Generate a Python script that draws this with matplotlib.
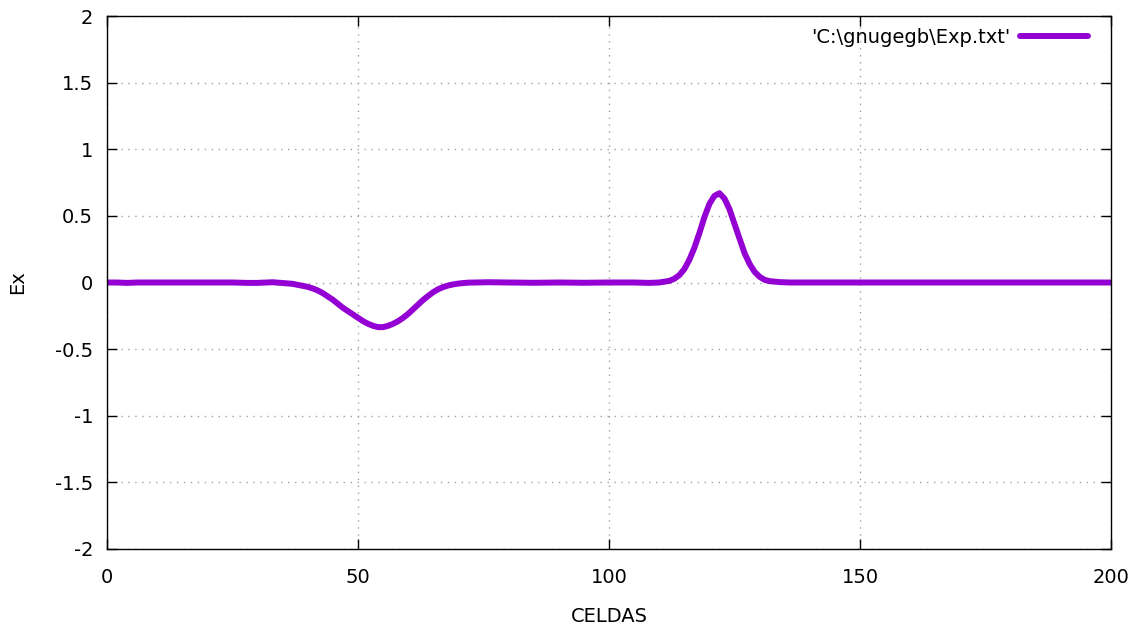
import matplotlib
matplotlib.use("Agg")
import matplotlib.pyplot as plt

plt.rcParams['axes.unicode_minus'] = False
plt.rcParams['font.family'] = ['DejaVu Sans']

celdas = [0, 2, 4, 6, 10, 15, 20, 25, 28, 30, 33, 35, 37,
          38, 39, 40, 41, 42, 43, 44, 45, 46, 47, 48, 49, 50, 51, 52, 53, 54, 55,
          56, 57, 58, 59, 60, 61, 62, 63, 64, 65, 66, 67, 68, 69, 70, 71, 72,
          76, 80, 85, 90, 95, 100, 105, 108, 110, 112,
          113, 114, 115, 116, 117, 118, 119, 120, 121, 122, 123, 124, 125, 126,
          127, 128, 129, 130, 131, 132, 134, 136, 140, 150, 160, 170, 180, 190, 200]
ex = [0.0, 0.0, -0.003, 0.0, 0.0, 0.0, 0.0, 0.0, -0.003, -0.003, 0.002, -0.004, -0.01,
      -0.018, -0.025, -0.033, -0.045, -0.06, -0.08, -0.105, -0.13, -0.16, -0.19,
      -0.215, -0.24, -0.265, -0.29, -0.31, -0.325, -0.335, -0.335,
      -0.325, -0.31, -0.29, -0.265, -0.235, -0.2, -0.165, -0.13, -0.1, -0.072,
      -0.05, -0.034, -0.022, -0.014, -0.008, -0.004, -0.001,
      0.002, 0.0, -0.002, 0.0, -0.002, 0.0, 0.0, -0.003, 0.0, 0.012,
      0.028, 0.055, 0.10, 0.17, 0.26, 0.37, 0.49, 0.59, 0.65, 0.67, 0.63, 0.55,
      0.44, 0.33, 0.22, 0.14, 0.08, 0.043, 0.02, 0.01, 0.003, 0.0, 0.0, 0.0, 0.0,
      0.0, 0.0, 0.0, 0.0]

serie_label = "'C:\\gnugegb\\Exp.txt'"
xticks = [0, 50, 100, 150, 200]
yticks = [-2, -1.5, -1, -0.5, 0, 0.5, 1, 1.5, 2]
ytick_labels = ['-2', '-1.5', '-1', '-0.5', '0', '0.5', '1', '1.5', '2']

fig = plt.figure(figsize=(11.4, 6.3), dpi=100)
ax = fig.add_axes([107/1140, 1-549/630, (1111-107)/1140, (549-16)/630])

ax.plot(celdas, ex, color='#9400D3', lw=4.3, solid_capstyle='round',
        solid_joinstyle='round', label=serie_label)

ax.set_xlim(0, 200)
ax.set_ylim(-2, 2)
ax.set_xticks(xticks)
ax.set_yticks(yticks)
ax.set_yticklabels(ytick_labels)
ax.grid(True, color='#a0a0a0', linestyle=(0, (1, 4)), linewidth=1.0)
ax.tick_params(direction='in', length=7, width=1, top=True, right=True,
               labelsize=14, colors='black')
ax.tick_params(axis='x', pad=14)
ax.tick_params(axis='y', pad=10)
for s in ax.spines.values():
    s.set_linewidth(1.0)
    s.set_color('black')

ax.set_xlabel('CELDAS', fontsize=14, labelpad=14)
ax.set_ylabel('Ex', fontsize=14, labelpad=20)

leg = ax.legend(loc='upper right', frameon=False, markerfirst=False,
                fontsize=14, handlelength=3.5, handletextpad=0.5,
                borderaxespad=0, borderpad=0,
                bbox_to_anchor=((1088-107)/1004, (549-28)/533))

fig.savefig('out.png', dpi=100)
